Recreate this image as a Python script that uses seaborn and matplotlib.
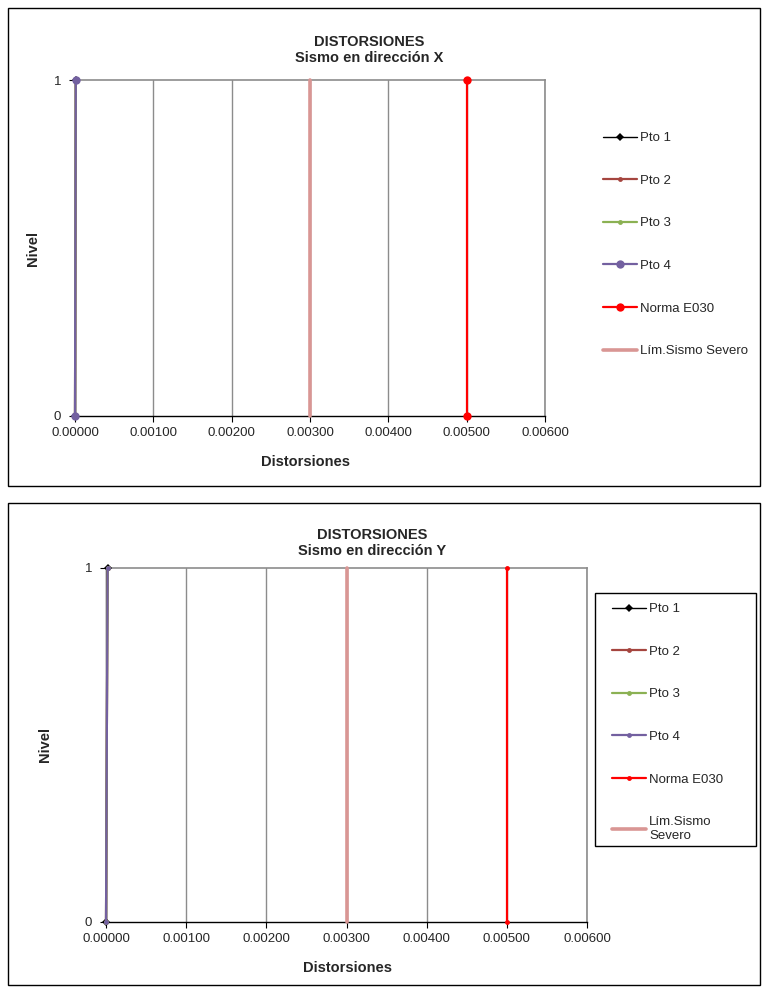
import matplotlib
matplotlib.use("Agg")
import matplotlib.pyplot as plt
import seaborn as sns
import pandas as pd
from matplotlib.patches import Rectangle
from matplotlib.ticker import FixedLocator

sns.set_theme(style="white")
plt.rcParams['font.family'] = ['Liberation Sans', 'DejaVu Sans']

niveles = [0, 1]
series_names = ["Pto 1", "Pto 2", "Pto 3", "Pto 4", "Norma E030", "Lím.Sismo Severo"]
x_vals_X = {
    "Pto 1": [0.0, 0.00001],
    "Pto 2": [0.0, 0.00001],
    "Pto 3": [0.0, 0.00001],
    "Pto 4": [0.0, 0.00001],
    "Norma E030": [0.005, 0.005],
    "Lím.Sismo Severo": [0.003, 0.003],
}
x_vals_Y = {
    "Pto 1": [0.0, 0.00002],
    "Pto 2": [0.0, 0.00002],
    "Pto 3": [0.0, 0.00002],
    "Pto 4": [0.0, 0.00002],
    "Norma E030": [0.005, 0.005],
    "Lím.Sismo Severo": [0.003, 0.003],
}
x_ticks = [0.0, 0.001, 0.002, 0.003, 0.004, 0.005, 0.006]
x_tick_labels = ["0.00000", "0.00100", "0.00200", "0.00300", "0.00400", "0.00500", "0.00600"]

colors = {
    "Pto 1": "#000000",
    "Pto 2": "#A5453F",
    "Pto 3": "#8BB153",
    "Pto 4": "#7360A0",
    "Norma E030": "#FF0000",
    "Lím.Sismo Severo": "#D99694",
}
styles_X = {
    "Pto 1": dict(marker="D", ms=4, lw=1.0),
    "Pto 2": dict(marker="o", ms=3.5, lw=1.6),
    "Pto 3": dict(marker="o", ms=3.5, lw=1.6),
    "Pto 4": dict(marker="o", ms=6, lw=1.6),
    "Norma E030": dict(marker="o", ms=6, lw=1.6),
    "Lím.Sismo Severo": dict(marker=None, ms=0, lw=2.6),
}
styles_Y = {
    "Pto 1": dict(marker="D", ms=4, lw=1.0),
    "Pto 2": dict(marker="o", ms=3.5, lw=1.6),
    "Pto 3": dict(marker="o", ms=3.5, lw=1.6),
    "Pto 4": dict(marker="o", ms=3.5, lw=1.6),
    "Norma E030": dict(marker="o", ms=3.5, lw=1.6),
    "Lím.Sismo Severo": dict(marker=None, ms=0, lw=2.6),
}

W, H = 763, 990
fig = plt.figure(figsize=(W / 100, H / 100), dpi=100)


def frac_rect(l, t, r, b):
    return [l / W, 1 - b / H, (r - l) / W, (b - t) / H]


def box(l, t, r, b):
    fig.add_artist(Rectangle((l / W, 1 - b / H), (r - l) / W, (b - t) / H,
                             transform=fig.transFigure, fill=False,
                             edgecolor="black", lw=1))


def panel(rect_box, rect_ax, xvals, styles, title2, title_xy, ylab_xy, xlab_xy,
          legend_pos, leg_labels, spacing):
    box(*rect_box)
    ax = fig.add_axes(frac_rect(*rect_ax))
    for name in series_names:
        df = pd.DataFrame({"x": xvals[name], "y": niveles})
        st = styles[name]
        kw = dict(marker=st["marker"], markersize=st["ms"]) if st["marker"] else {}
        sns.lineplot(data=df, x="x", y="y", ax=ax, estimator=None, sort=False,
                     color=colors[name], lw=st["lw"], label=name,
                     markeredgewidth=0, zorder=5, clip_on=False, **kw)
    ax.set_xlim(0, 0.006)
    ax.set_ylim(0, 1)
    ax.xaxis.set_major_locator(FixedLocator(x_ticks))
    ax.set_xticklabels(x_tick_labels, fontsize=9.5)
    ax.set_yticks([0, 1])
    ax.set_yticklabels(["0", "1"], fontsize=9.5)
    ax.tick_params(axis="both", direction="out", length=4, width=0.8,
                   color="black", pad=4, left=True, bottom=True)
    ax.tick_params(axis="y", pad=6)
    ax.grid(axis="x", color="#8C8C8C", lw=1)
    ax.grid(axis="y", visible=False)
    for s in ["top", "right"]:
        ax.spines[s].set_color("#8C8C8C")
        ax.spines[s].set_linewidth(1.2)
    for s in ["bottom", "left"]:
        ax.spines[s].set_color("black")
        ax.spines[s].set_linewidth(1)
    ax.set_xlabel("")
    ax.set_ylabel("")
    handles, labels = ax.get_legend_handles_labels()
    ax.get_legend().remove()
    fig.legend(handles, leg_labels, loc="upper left",
               bbox_to_anchor=(legend_pos[0] / W, 1 - legend_pos[1] / H),
               frameon=False, fontsize=9.5, labelspacing=spacing,
               handlelength=2.6, handletextpad=0.2, borderpad=0.0,
               borderaxespad=0.0)
    fig.text(title_xy[0] / W, 1 - title_xy[1] / H, "DISTORSIONES", ha="center",
             va="center", fontsize=10.5, fontweight="bold")
    fig.text(title_xy[0] / W, 1 - (title_xy[1] + 16) / H, title2, ha="center",
             va="center", fontsize=10.5, fontweight="bold")
    fig.text(ylab_xy[0] / W, 1 - ylab_xy[1] / H, "Nivel", rotation=90,
             ha="center", va="center", fontsize=10.5, fontweight="bold")
    fig.text(xlab_xy[0] / W, 1 - xlab_xy[1] / H, "Distorsiones", ha="center",
             va="center", fontsize=10.5, fontweight="bold")
    return ax


panel((8, 8, 760, 486), (75, 80, 545, 416), x_vals_X, styles_X,
      "Sismo en dirección X", (369, 42), (33, 248), (306, 462),
      (603, 132), series_names, 2.3)

labels_Y = series_names[:5] + ["Lím.Sismo\nSevero"]
box(595, 593, 756, 846)
panel((8, 503, 760, 985), (106, 568, 587, 922), x_vals_Y, styles_Y,
      "Sismo en dirección Y", (372, 535), (45, 745), (347, 968),
      (612, 603), labels_Y, 2.3)

fig.savefig("out.png", dpi=100)
